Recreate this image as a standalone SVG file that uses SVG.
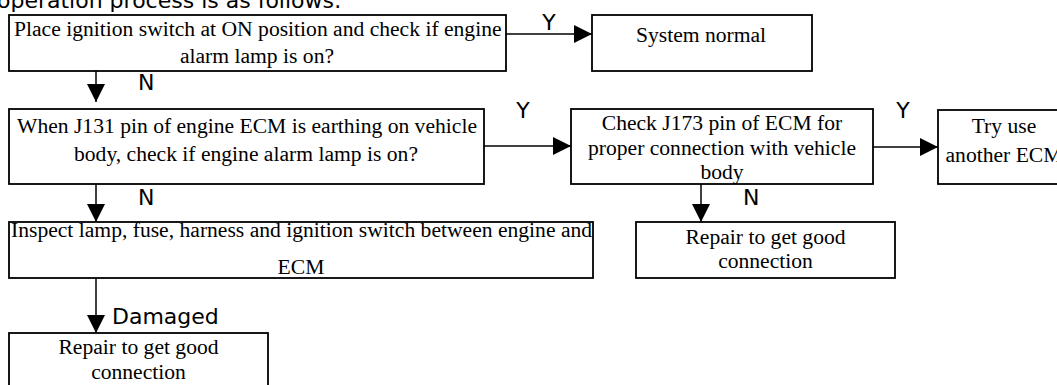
<svg xmlns="http://www.w3.org/2000/svg" width="1057" height="385" viewBox="0 0 1057 385">
<style>
.box{fill:#fff;stroke:#000;stroke-width:1.8}
.t{font-family:"Liberation Serif","Times New Roman",serif;font-size:21.6px;fill:#000}
.c{text-anchor:middle}
.lbl{font-family:"DejaVu Sans",sans-serif;font-size:22px;fill:#000}
.conn line{stroke:#000;stroke-width:1.5;marker-end:url(#ah)}
</style>
<defs>
<marker id="ah" markerUnits="userSpaceOnUse" markerWidth="18" markerHeight="18" refX="18" refY="9" orient="auto">
<path d="M0,0 L18,9 L0,18 z" fill="#000"/>
</marker>
</defs>
<rect width="1057" height="385" fill="#fff"/>
<text class="lbl" x="-3" y="8" font-size="23">operation process is as follows:</text>

<g id="n1">
<rect class="box" x="9" y="15" width="497" height="56"/>
<text class="t" x="14" y="35.5">Place ignition switch at ON position and check if engine</text>
<text class="t c" x="257" y="62.5">alarm lamp is on?</text>
</g>
<g id="n2">
<rect class="box" x="592" y="15" width="220" height="56"/>
<text class="t c" x="701" y="42">System normal</text>
</g>
<g id="n3">
<rect class="box" x="9" y="109" width="475" height="75"/>
<text class="t" x="17" y="133">When J131 pin of engine ECM is earthing on vehicle</text>
<text class="t c" x="246" y="161">body, check if engine alarm lamp is on?</text>
</g>
<g id="n4">
<rect class="box" x="571" y="109" width="302" height="75"/>
<text class="t c" x="722" y="130">Check J173 pin of ECM for</text>
<text class="t c" x="722" y="154.5">proper connection with vehicle</text>
<text class="t c" x="722" y="179">body</text>
</g>
<g id="n5">
<rect class="box" x="938" y="110" width="132" height="74"/>
<text class="t c" x="1004" y="132.5">Try use</text>
<text class="t c" x="1004" y="161.5">another ECM</text>
</g>
<g id="n6">
<rect class="box" x="636" y="222" width="259" height="56"/>
<text class="t c" x="765.5" y="243.5">Repair to get good</text>
<text class="t c" x="765.5" y="267.5">connection</text>
</g>
<g id="n7">
<rect class="box" x="9" y="222" width="584" height="56"/>
<text class="t" x="11" y="236.5">Inspect lamp, fuse, harness and ignition switch between engine and</text>
<text class="t c" x="301" y="274">ECM</text>
</g>
<g id="n8">
<rect class="box" x="9" y="333" width="259" height="70"/>
<text class="t c" x="138.5" y="354">Repair to get good</text>
<text class="t c" x="138.5" y="379">connection</text>
</g>

<g id="connectors" class="conn">
<line x1="506" y1="34" x2="592" y2="34"/>
<line x1="96" y1="71" x2="96" y2="102"/>
<line x1="484" y1="146" x2="571" y2="146"/>
<line x1="873" y1="147" x2="938" y2="147"/>
<line x1="96" y1="184" x2="96" y2="222"/>
<line x1="701" y1="184" x2="701" y2="222"/>
<line x1="96" y1="278" x2="96" y2="333"/>
</g>
<g id="labels">
<text class="lbl c" x="549" y="30">Y</text>
<text class="lbl" x="138" y="89.5">N</text>
<text class="lbl c" x="523" y="118">Y</text>
<text class="lbl c" x="903" y="118">Y</text>
<text class="lbl" x="138" y="205">N</text>
<text class="lbl" x="743" y="205">N</text>
<text class="lbl" x="112" y="324" font-size="23">Damaged</text>
</g>
</svg>
